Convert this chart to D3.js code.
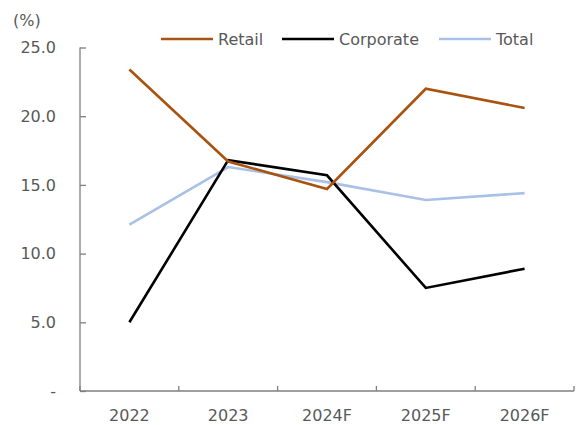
<!DOCTYPE html>
<html>
<head>
<meta charset="utf-8">
<script src="https://cdn.jsdelivr.net/npm/d3@7"></script>
<style>
  html, body { margin: 0; padding: 0; background: #fff; }
  svg { display: block; }
  text { font-family: "DejaVu Sans", Verdana, sans-serif; fill: #595959; }
</style>
</head>
<body>
<svg id="chart" width="576" height="425"></svg>
<script>
// Loan growth by segment, actual and forecast
const categories = ["2022", "2023", "2024F", "2025F", "2026F"];
const retail = [23.4, 16.7, 14.7, 22.0, 20.6];
const corporate = [5.0, 16.8, 15.7, 7.5, 8.9];
const total = [12.1, 16.3, 15.2, 13.9, 14.4];
const yTicks = [0, 5, 10, 15, 20, 25];

const series = [
  { name: "Retail", values: retail, color: "#A8530F" },
  { name: "Corporate", values: corporate, color: "#000000" },
  { name: "Total", values: total, color: "#A9C1E6" }
];

const fontSize = "16px";
const svg = d3.select("#chart");
const plotLeft = 80, plotRight = 574, plotTop = 47.5, plotBottom = 391;

const x = d3.scaleBand().domain(categories).range([plotLeft, plotRight]);
const y = d3.scaleLinear().domain([0, 25]).range([plotBottom, plotTop]);

// y axis
const yAxis = d3.axisLeft(y)
  .tickValues(yTicks)
  .tickSize(-6)
  .tickPadding(24)
  .tickFormat(d => d === 0 ? "-" : d.toFixed(1));
const gy = svg.append("g").attr("transform", `translate(${plotLeft},0)`).call(yAxis);
gy.select(".domain").attr("stroke", "#7f7f7f").attr("stroke-width", 1.3).attr("d", `M0,${plotTop}V${plotBottom}`);
gy.selectAll(".tick line").attr("stroke", "#7f7f7f").attr("stroke-width", 1.3);
gy.selectAll(".tick text")
  .style("font-family", "'DejaVu Sans', Verdana, sans-serif")
  .style("font-size", fontSize)
  .attr("fill", "#595959");

// x axis with ticks at category boundaries
const gx = svg.append("g").attr("transform", `translate(0,${plotBottom})`);
gx.append("path").attr("d", `M${plotLeft},0H${plotRight}`).attr("stroke", "#7f7f7f").attr("stroke-width", 1.3).attr("fill", "none");
const bounds = categories.map(c => x(c)).concat([plotRight]);
gx.selectAll("line.b").data(bounds).join("line")
  .attr("x1", d => d).attr("x2", d => d)
  .attr("y1", 0).attr("y2", -5)
  .attr("stroke", "#7f7f7f").attr("stroke-width", 1.3);
gx.selectAll("text.cat").data(categories).join("text")
  .attr("class", "cat")
  .attr("x", d => x(d) + x.bandwidth() / 2)
  .attr("y", 30)
  .attr("text-anchor", "middle")
  .style("font-size", fontSize)
  .text(d => d);

// unit label
svg.append("text").attr("x", 13).attr("y", 26).style("font-size", fontSize).text("(%)");

// lines
const line = d3.line()
  .x((d, i) => x(categories[i]) + x.bandwidth() / 2)
  .y(d => y(d));

series.slice().reverse().forEach(s => {
  svg.append("path")
    .datum(s.values)
    .attr("d", line)
    .attr("fill", "none")
    .attr("stroke", s.color)
    .attr("stroke-width", 2.6)
    .attr("stroke-linejoin", "miter");
});

// legend
const legendPos = [161, 282, 439];
const lg = svg.append("g");
series.forEach((s, i) => {
  const lx = legendPos[i];
  lg.append("line")
    .attr("x1", lx).attr("x2", lx + 52)
    .attr("y1", 39).attr("y2", 39)
    .attr("stroke", s.color).attr("stroke-width", 2.6);
  lg.append("text")
    .attr("x", lx + 57).attr("y", 45)
    .style("font-size", fontSize)
    .text(s.name);
});
</script>
</body>
</html>
